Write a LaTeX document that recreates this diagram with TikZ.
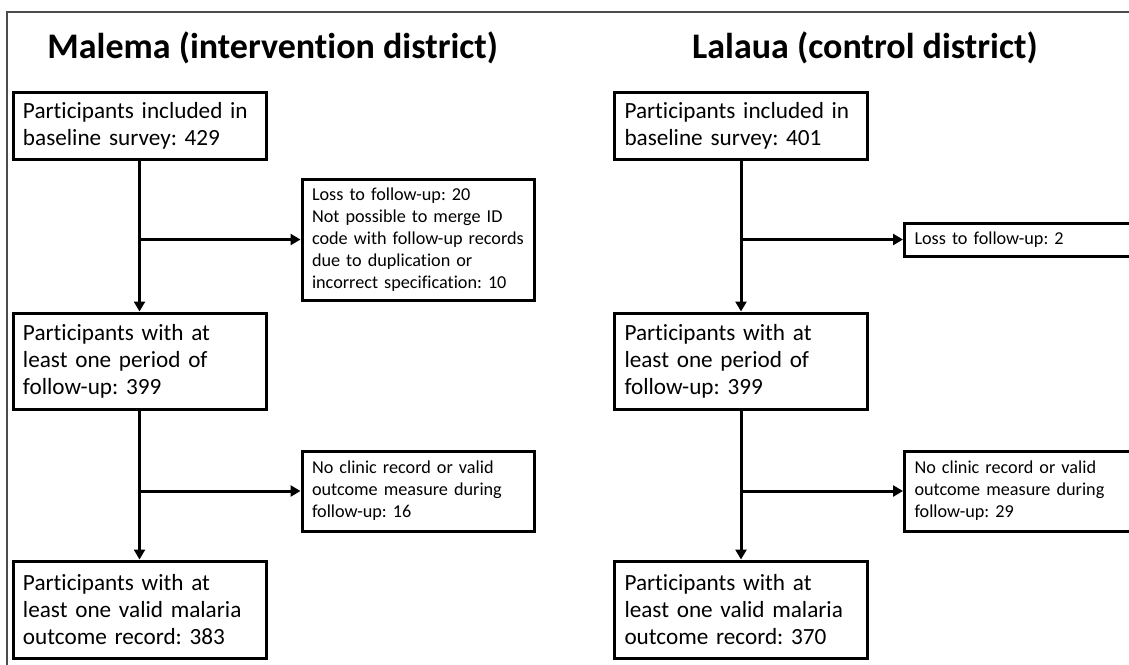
\documentclass[tikz,border=0pt]{standalone}
\usepackage{fontspec}
\setmainfont[Ligatures=NoCommon]{Carlito}
\frenchspacing
\usetikzlibrary{arrows.meta}
\begin{document}
\begin{tikzpicture}[x=0.5pt, y=-0.5pt,
	mainbox/.style={draw, line width=1.5pt, inner xsep=5pt, inner ysep=0pt, align=left, text width=116.5pt, minimum height=#1, font=\fontsize{11.6}{13.5}\selectfont},
	sidebox/.style={draw, line width=1.5pt, inner xsep=5pt, inner ysep=0pt, align=left, text width=106pt, minimum height=#1, font=\fontsize{9.1}{11}\selectfont},
	flow/.style={line width=1.5pt, -{Triangle[length=5pt, width=5.5pt]}},
	districttitle/.style={font=\fontsize{18}{22}\selectfont\bfseries, inner sep=0pt}]
	
	\def \xl{139.5}
	\def \xr{741}
	\def \xs{418}
	
	\useasboundingbox (0,0) rectangle (1129,664);
	\clip (0,0) rectangle (1129,664);
	\draw[line width=0.8pt, black!70] (7,12) rectangle (1160,700);
	
	% MALEMA
	\node[districttitle, anchor=base west] (title1) at (47,58) {Malema (intervention district)};
	\node[mainbox=33.5pt] (base1) at (\xl,125.5) {Participants included in\\baseline survey: 429};
	\node[mainbox=48pt] (fu1) at (\xl,361) {Participants with at\\least one period of\\follow-up: 399};
	\node[mainbox=48.5pt] (out1) at (\xl,609.5) {Participants with at\\least one valid malaria\\outcome record: 383};
	\node[sidebox=60.5pt] (loss1) at (\xs,239.5) {Loss to follow-up: 20\\Not possible to merge ID\\code with follow-up records\\due to duplication or\\incorrect specification: 10};
	\node[sidebox=40pt] (noclinic1) at (\xs,491) {No clinic record or valid\\outcome measure during\\follow-up: 16};
	
	\draw[flow] (base1) -- (fu1);
	\draw[flow] (fu1) -- (out1);
	\draw[flow] (base1.south |- loss1.west) -- (loss1.west);
	\draw[flow] (fu1.south |- noclinic1.west) -- (noclinic1.west);
	
	% LALAUA
	\node[districttitle, anchor=base east] (title2) at (1038,58) {Lalaua (control district)};
	\node[mainbox=33.5pt] (base2) at (\xr,125.5) {Participants included in\\baseline survey: 401};
	\node[mainbox=48pt] (fu2) at (\xr,361) {Participants with at\\least one period of\\follow-up: 399};
	\node[mainbox=48.5pt] (out2) at (\xr,609.5) {Participants with at\\least one valid malaria\\outcome record: 370};
	\node[sidebox=16.5pt, text width=130pt, anchor=west] (loss2) at (903,239.5) {Loss to follow-up: 2};
	\node[sidebox=40pt, text width=130pt, anchor=west] (noclinic2) at (903,491) {No clinic record or valid\\outcome measure during\\follow-up: 29};
	
	\draw[flow] (base2) -- (fu2);
	\draw[flow] (fu2) -- (out2);
	\draw[flow] (base2.south |- loss2.west) -- (loss2.west);
	\draw[flow] (fu2.south |- noclinic2.west) -- (noclinic2.west);
	
\end{tikzpicture}
\end{document}
